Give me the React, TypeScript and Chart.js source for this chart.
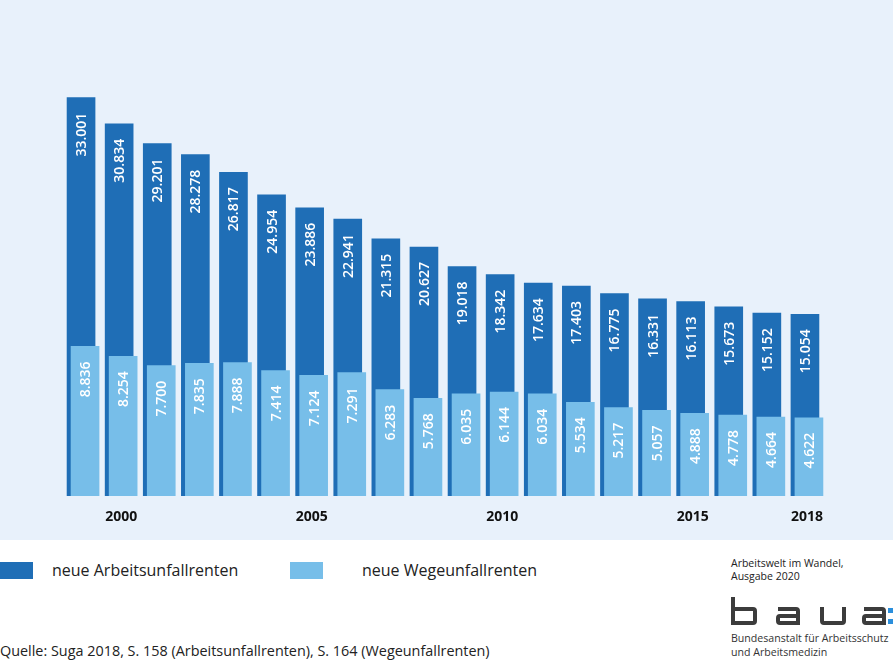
import React, { useEffect, useRef } from 'react';
import { Chart, registerables } from 'chart.js';

Chart.register(...registerables);

const YEARS = ['1999', '2000', '2001', '2002', '2003', '2004', '2005', '2006', '2007', '2008', '2009', '2010', '2011', '2012', '2013', '2014', '2015', '2016', '2017', '2018'];
const SHOWN_YEARS = ['2000', '2005', '2010', '2015', '2018'];
const ARBEITSUNFALLRENTEN = [33001, 30834, 29201, 28278, 26817, 24954, 23886, 22941, 21315, 20627, 19018, 18342, 17634, 17403, 16775, 16331, 16113, 15673, 15152, 15054];
const WEGEUNFALLRENTEN = [8836, 8254, 7700, 7835, 7888, 7414, 7124, 7291, 6283, 5768, 6035, 6144, 6034, 5534, 5217, 5057, 4888, 4778, 4664, 4622];
const SERIES_NAMES = ['neue Arbeitsunfallrenten', 'neue Wegeunfallrenten'];
const SOURCE_TEXT = 'Quelle: Suga 2018, S. 158 (Arbeitsunfallrenten), S. 164 (Wegeunfallrenten)';
const PUBLICATION = ['Arbeitswelt im Wandel,', 'Ausgabe 2020'];
const INSTITUTION = ['Bundesanstalt für Arbeitsschutz', 'und Arbeitsmedizin'];

const DARK = '#1f6eb6';
const LIGHT = '#77bee9';
const BG = '#e8f1fb';
const BAR_SHIFT = [-2, 2];

const fmt = (n: number) => String(n).replace(/\B(?=(\d{3})+(?!\d))/g, '.');

const shiftPlugin = {
  id: 'shiftBars',
  afterDatasetsUpdate(chart: any) {
    chart.data.datasets.forEach((_: any, di: number) => {
      chart.getDatasetMeta(di).data.forEach((el: any) => {
        el.x += BAR_SHIFT[di];
      });
    });
  },
};

const valueLabelPlugin = {
  id: 'valueLabels',
  afterDatasetsDraw(chart: any) {
    const ctx = chart.ctx;
    chart.data.datasets.forEach((ds: any, di: number) => {
      const meta = chart.getDatasetMeta(di);
      meta.data.forEach((el: any, i: number) => {
        ctx.save();
        ctx.translate(el.x, el.y + 15);
        ctx.rotate(-Math.PI / 2);
        ctx.textAlign = 'right';
        ctx.textBaseline = 'middle';
        ctx.font = '600 14px "Open Sans"';
        ctx.fillStyle = '#ffffff';
        ctx.fillText(fmt(ds.data[i]), 0, 1);
        ctx.restore();
      });
    });
  },
};

function BarChart() {
  const ref = useRef<HTMLCanvasElement>(null);
  useEffect(() => {
    if (!ref.current) return;
    const chart = new Chart(ref.current, {
      type: 'bar',
      data: {
        labels: YEARS,
        datasets: [
          {
            label: SERIES_NAMES[0],
            data: ARBEITSUNFALLRENTEN,
            backgroundColor: DARK,
            borderWidth: 0,
            barThickness: 28,
            grouped: false,
            yAxisID: 'y',
            order: 1,
          },
          {
            label: SERIES_NAMES[1],
            data: WEGEUNFALLRENTEN,
            backgroundColor: LIGHT,
            borderWidth: 0,
            barThickness: 28,
            grouped: false,
            yAxisID: 'y2',
            order: 0,
          },
        ],
      } as any,
      options: {
        responsive: false,
        animation: false,
        devicePixelRatio: 1,
        layout: { padding: { left: 64, right: 67, top: 16, bottom: 0 } },
        plugins: { legend: { display: false }, tooltip: { enabled: false } },
        scales: {
          x: {
            type: 'category',
            grid: { display: false, drawTicks: false },
            border: { display: false },
            afterFit: (s: any) => { s.height = 44; },
            ticks: {
              autoSkip: false,
              maxRotation: 0,
              minRotation: 0,
              padding: 13,
              color: '#111111',
              font: { family: '"Open Sans"', size: 14, weight: 'bold' },
              callback: (_v: any, i: number) => (SHOWN_YEARS.includes(YEARS[i]) ? YEARS[i] : ''),
            },
          },
          y: { display: false, min: 0, max: 39770 },
          y2: { display: false, min: 0, max: 28352 },
        },
      } as any,
      plugins: [shiftPlugin, valueLabelPlugin],
    });
    return () => chart.destroy();
  }, []);
  return <canvas ref={ref} width={893} height={540} style={{ display: 'block' }} />;
}

function Logo() {
  const s = { fill: 'none', stroke: '#3c3c3c', strokeWidth: 4 };
  return (
    <svg width={162} height={31} style={{ position: 'absolute', left: 731, top: 596 }}>
      <path d="M2,1 V27 H22 Q24,27 24,25 V15 Q24,13 22,13 H2" {...s} />
      <path d="M47,13 H65 Q67,13 67,15 V29 M67,20 H49 Q47,20 47,22 V25 Q47,27 49,27 H67" {...s} />
      <path d="M91,11 V25 Q91,27 93,27 H111 Q113,27 113,25 V11" {...s} />
      <path d="M133,13 H151 Q153,13 153,15 V29 M153,20 H135 Q133,20 133,22 V25 Q133,27 135,27 H153" {...s} />
      <rect x={157} y={12} width={5} height={5} fill="#2b8fdc" />
      <rect x={157} y={23} width={5} height={5} fill="#2b8fdc" />
    </svg>
  );
}

export default function App() {
  const font = '"Open Sans", sans-serif';
  return (
    <div style={{ position: 'absolute', left: 0, top: 0, width: 893, height: 663, background: '#ffffff', overflow: 'hidden', fontFamily: font }}>
      <div style={{ position: 'absolute', left: 0, top: 0, width: 893, height: 540, background: BG }}>
        <BarChart />
      </div>
      <div style={{ position: 'absolute', left: 0, top: 562, width: 33, height: 17, background: DARK }} />
      <div style={{ position: 'absolute', left: 52, top: 559, fontSize: 16, lineHeight: '22px', color: '#222' }}>{SERIES_NAMES[0]}</div>
      <div style={{ position: 'absolute', left: 290, top: 562, width: 33, height: 17, background: LIGHT }} />
      <div style={{ position: 'absolute', left: 362, top: 559, fontSize: 16, lineHeight: '22px', color: '#222' }}>{SERIES_NAMES[1]}</div>
      <div style={{ position: 'absolute', left: 0, top: 641, fontSize: 14.4, lineHeight: '20px', color: '#222', whiteSpace: 'nowrap' }}>{SOURCE_TEXT}</div>
      <div style={{ position: 'absolute', left: 731, top: 557, fontSize: 10.5, lineHeight: '13px', color: '#222', whiteSpace: 'nowrap' }}>
        {PUBLICATION[0]}<br />{PUBLICATION[1]}
      </div>
      <Logo />
      <div style={{ position: 'absolute', left: 731, top: 631, fontSize: 10.6, lineHeight: '14px', color: '#333', whiteSpace: 'nowrap' }}>
        {INSTITUTION[0]}<br />{INSTITUTION[1]}
      </div>
    </div>
  );
}
